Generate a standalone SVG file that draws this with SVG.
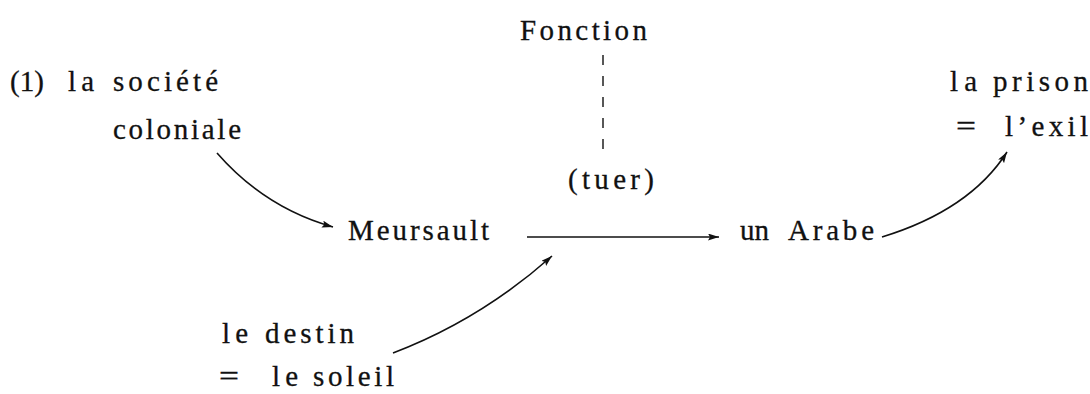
<svg xmlns="http://www.w3.org/2000/svg" width="1090" height="394" viewBox="0 0 1090 394">
  <style>
    text { font-family: "Liberation Serif", "DejaVu Serif", serif; font-size: 29px; fill: #111; stroke: #111; stroke-width: 0.3; }
    .edge { fill: none; stroke: #111; stroke-width: 1.6; }
    .dash { fill: none; stroke: #111; stroke-width: 1.4; stroke-dasharray: 10 11; }
  </style>
  <defs>
    <marker id="arrow" markerUnits="userSpaceOnUse" markerWidth="12" markerHeight="8" refX="11" refY="3.5" orient="auto">
      <path d="M0,0 L11,3.5 L0,7 L2,3.5 Z" fill="#111"/>
    </marker>
  </defs>
  <rect width="1090" height="394" fill="#fff"/>

  <g id="societe">
    <text x="10" y="91" textLength="34" lengthAdjust="spacing">(1)</text>
    <text x="68" y="91" textLength="26" lengthAdjust="spacing">la</text>
    <text x="113" y="91" textLength="105" lengthAdjust="spacing">société</text>
    <text x="113" y="139" textLength="128" lengthAdjust="spacing">coloniale</text>
  </g>

  <g id="fonction">
    <text x="520" y="40" textLength="127" lengthAdjust="spacing">Fonction</text>
  </g>

  <g id="tuer">
    <text x="568" y="189" textLength="86" lengthAdjust="spacing">(tuer)</text>
  </g>

  <g id="meursault">
    <text x="348" y="240" textLength="141" lengthAdjust="spacing">Meursault</text>
  </g>

  <g id="arabe">
    <text x="740" y="240" textLength="29" lengthAdjust="spacing">un</text>
    <text x="788" y="240" textLength="86" lengthAdjust="spacing">Arabe</text>
  </g>

  <g id="prison">
    <text x="950" y="91" textLength="27" lengthAdjust="spacing">la</text>
    <text x="993" y="91" textLength="95" lengthAdjust="spacing">prison</text>
    <text x="956" y="136" textLength="20" lengthAdjust="spacingAndGlyphs">=</text>
    <text x="1005" y="136" textLength="83" lengthAdjust="spacing">l’exil</text>
  </g>

  <g id="destin">
    <text x="222" y="343" textLength="26" lengthAdjust="spacing">le</text>
    <text x="265" y="343" textLength="89" lengthAdjust="spacing">destin</text>
    <text x="219" y="386" textLength="20" lengthAdjust="spacingAndGlyphs">=</text>
    <text x="272" y="386" textLength="26" lengthAdjust="spacing">le</text>
    <text x="313" y="386" textLength="81" lengthAdjust="spacing">soleil</text>
  </g>

  <g id="connectors">
    <path class="edge" d="M217,153 Q265,208 333,227" marker-end="url(#arrow)"/>
    <path class="edge" d="M527,237 H719" marker-end="url(#arrow)"/>
    <path class="edge" d="M393,353 Q480,320 552,256" marker-end="url(#arrow)"/>
    <path class="edge" d="M882,237 Q970,210 1007,152" marker-end="url(#arrow)"/>
    <path class="dash" d="M603,55 V157"/>
  </g>
</svg>
